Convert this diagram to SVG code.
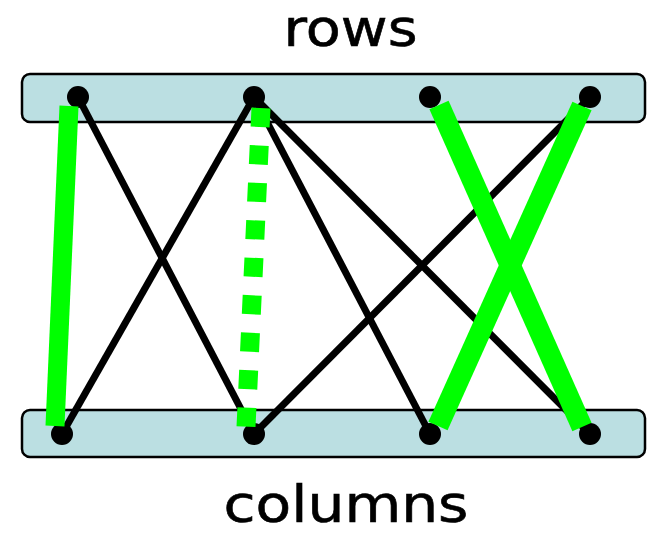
<svg xmlns="http://www.w3.org/2000/svg" width="649" height="534" viewBox="0 0 649 534">
<style>
.bar{fill:#bbdfe2;stroke:#000;stroke-width:2.5}
.dot{fill:#000}
.edge{stroke:#000;stroke-width:7;fill:none}
.hl{stroke:#00ff00;stroke-width:19;fill:none;stroke-linecap:butt}
.hlx{stroke:#00ff00;stroke-width:21;fill:none;stroke-linecap:butt}
.dash{stroke:#00ff00;stroke-width:19;fill:none;stroke-dasharray:19 18.5;stroke-linecap:butt}
.lbl{font-family:"DejaVu Sans",sans-serif;font-size:51px;fill:#000;stroke:#000;stroke-width:0.6;text-anchor:middle}
</style>
<rect width="649" height="534" fill="#fff"/>
<g id="rows">
<rect class="bar" x="22" y="74" width="623" height="48" rx="8"/>
<text class="lbl" x="350.5" y="46" textLength="134" lengthAdjust="spacingAndGlyphs">rows</text>
</g>
<g id="columns">
<rect class="bar" x="22" y="410" width="623" height="47" rx="8"/>
<text class="lbl" x="346" y="522" textLength="245" lengthAdjust="spacingAndGlyphs">columns</text>
</g>
<g id="connectors">
<line class="edge" x1="78" y1="97" x2="254" y2="434"/>
<line class="edge" x1="254" y1="97" x2="62" y2="434"/>
<line class="edge" x1="254" y1="97" x2="430" y2="434"/>
<line class="edge" x1="254" y1="97" x2="590" y2="434"/>
<line class="edge" x1="590" y1="97" x2="254" y2="434"/>
</g>
<g id="r1"><circle class="dot" cx="78" cy="97" r="11"/></g>
<g id="r2"><circle class="dot" cx="254" cy="97" r="11"/></g>
<g id="r3"><circle class="dot" cx="430" cy="97" r="11"/></g>
<g id="r4"><circle class="dot" cx="590" cy="97" r="11"/></g>
<g id="c1"><circle class="dot" cx="62" cy="434" r="11"/></g>
<g id="c2"><circle class="dot" cx="254" cy="434" r="11"/></g>
<g id="c3"><circle class="dot" cx="430" cy="434" r="11"/></g>
<g id="c4"><circle class="dot" cx="590" cy="434" r="11"/></g>
<g id="highlights">
<line class="hl" x1="69" y1="106" x2="55" y2="426"/>
<line class="dash" x1="261" y1="108" x2="246" y2="427"/>
<line class="hlx" x1="439" y1="105" x2="582" y2="427"/>
<line class="hlx" x1="582" y1="106" x2="438" y2="426"/>
</g>
</svg>
